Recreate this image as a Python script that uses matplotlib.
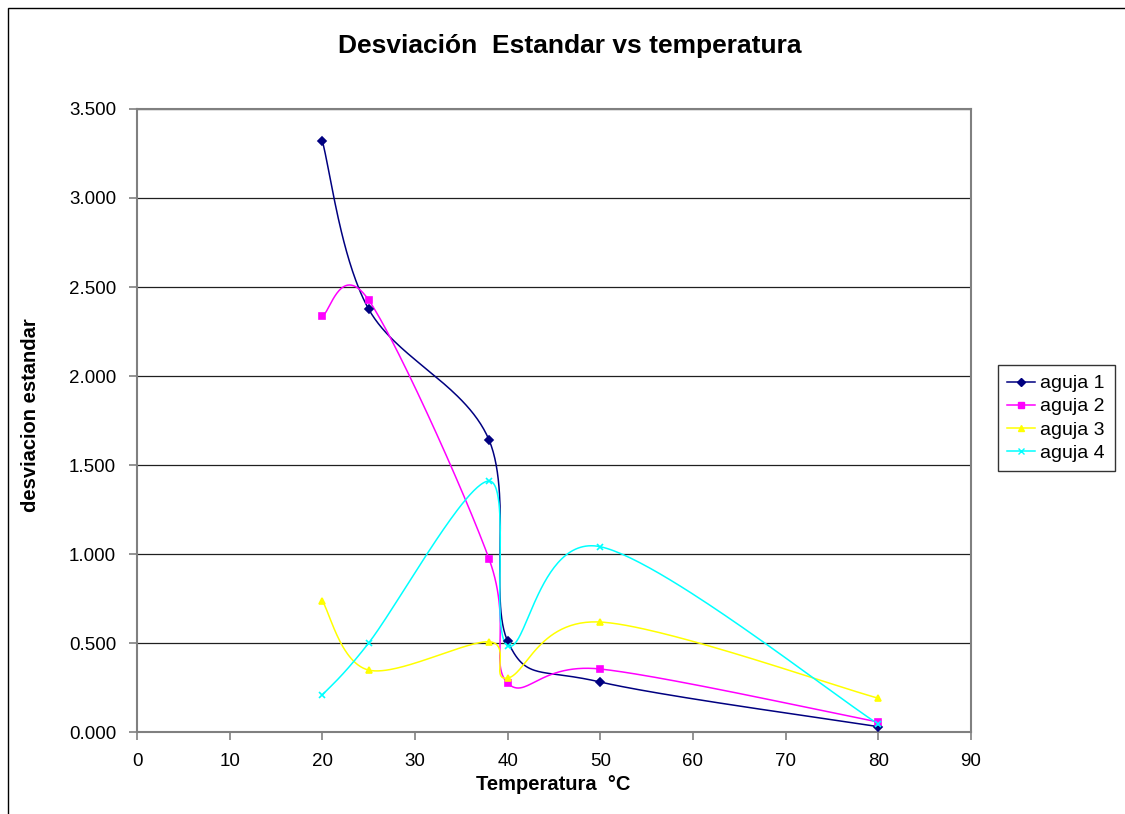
import numpy as np
import matplotlib.pyplot as plt
from matplotlib.patches import Rectangle

plt.rcParams['font.family'] = ['Liberation Sans', 'DejaVu Sans']

temperatura = [20, 25, 38, 40, 50, 80]
aguja1 = [3.320, 2.376, 1.640, 0.511, 0.281, 0.030]
aguja2 = [2.337, 2.427, 0.972, 0.275, 0.354, 0.056]
aguja3 = [0.736, 0.348, 0.507, 0.303, 0.618, 0.190]
aguja4 = [0.208, 0.500, 1.410, 0.485, 1.041, 0.045]

series = [
    ('aguja 1', aguja1, '#000080', 'D', 4),
    ('aguja 2', aguja2, '#FF00FF', 's', 4.5),
    ('aguja 3', aguja3, '#FFFF00', '^', 5),
    ('aguja 4', aguja4, '#00FFFF', 'x', 4),
]


def smooth(xs, ys, n=60):
    # Excel-like smoothed line (Catmull-Rom / Bezier through points)
    x = np.asarray(xs, float)
    y = np.asarray(ys, float)
    px = np.concatenate([[x[0]], x, [x[-1]]])
    py = np.concatenate([[y[0]], y, [y[-1]]])
    outx, outy = [], []
    t = np.linspace(0, 1, n)
    for i in range(1, len(px) - 2):
        p0 = np.array([px[i], py[i]])
        p3 = np.array([px[i + 1], py[i + 1]])
        p1 = p0 + (np.array([px[i + 1], py[i + 1]]) - np.array([px[i - 1], py[i - 1]])) / 6
        p2 = p3 - (np.array([px[i + 2], py[i + 2]]) - np.array([px[i], py[i]])) / 6
        b = ((1 - t) ** 3)[:, None] * p0 + (3 * (1 - t) ** 2 * t)[:, None] * p1 \
            + (3 * (1 - t) * t ** 2)[:, None] * p2 + (t ** 3)[:, None] * p3
        outx.extend(b[:, 0])
        outy.extend(b[:, 1])
    return outx, outy


fig = plt.figure(figsize=(11.25, 8.14), dpi=100)
ax = fig.add_axes([0.1218, 0.1007, 0.7412, 0.7654])

for name, vals, col, mk, ms in series:
    sx, sy = smooth(temperatura, vals)
    ax.plot(sx, sy, color=col, lw=1.1, zorder=3)
    ax.plot(temperatura, vals, linestyle='none', marker=mk, color=col, ms=ms,
            mew=1.2, zorder=4)
    ax.plot([], [], color=col, marker=mk, ms=ms, lw=1.1, label=name)

ax.set_xlim(0, 90)
ax.set_ylim(0, 3.5)
ax.set_xticks(range(0, 91, 10))
ax.set_yticks(np.arange(0, 3.51, 0.5))
ax.set_yticklabels(['%.3f' % v for v in np.arange(0, 3.51, 0.5)])
ax.yaxis.grid(True, color='#202020', lw=0.9)
ax.set_axisbelow(True)
ax.tick_params(labelsize=13.5, direction='out', length=6, color='#808080', width=1.2)
ax.tick_params(axis='y', pad=9)
ax.tick_params(axis='x', pad=9)
for s in ax.spines.values():
    s.set_color('#808080')
    s.set_linewidth(1.5)

fig.text(570 / 1125, 1 - 46 / 814, 'Desviación  Estandar vs temperatura', fontsize=19,
         fontweight='bold', ha='center', va='center')
fig.text(553 / 1125, 1 - 785 / 814, 'Temperatura  °C', fontsize=14.5,
         fontweight='bold', ha='center', va='center')
fig.text(31 / 1125, 1 - 415 / 814, 'desviacion estandar', fontsize=14.5,
         fontweight='bold', ha='center', va='center', rotation=90)

leg = ax.legend(loc='upper left', bbox_to_anchor=(1.032, 0.589), fontsize=14,
                frameon=True, fancybox=False, edgecolor='black',
                handlelength=1.4, handletextpad=0.3, borderpad=0.5,
                labelspacing=0.28, borderaxespad=0)
leg.get_frame().set_linewidth(1.0)

fig.patches.append(Rectangle((8 / 1125, -0.01), 1.2, 1 - 8 / 814 + 0.01, transform=fig.transFigure,
                             fill=False, edgecolor='black', lw=1.0))

fig.savefig('out.png', dpi=100)
